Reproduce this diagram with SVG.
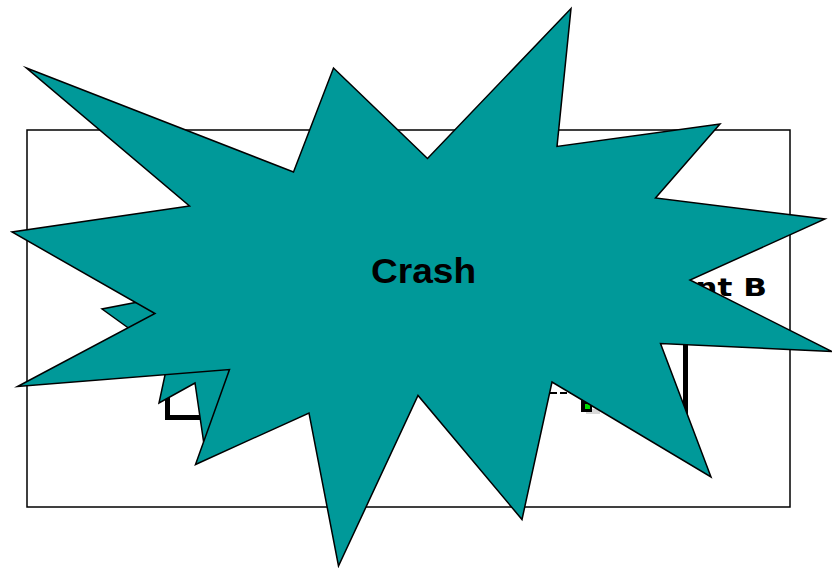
<svg xmlns="http://www.w3.org/2000/svg" width="832" height="568" viewBox="0 0 832 568">
  <style>
    .frame { fill: #ffffff; stroke: #000000; stroke-width: 1.5; }
    .burst { fill: #009999; stroke: #000000; stroke-width: 1.5; stroke-linejoin: miter; stroke-miterlimit: 20; }
    .thick { fill: none; stroke: #000000; stroke-width: 5; }
    .dash { fill: none; stroke: #000000; stroke-width: 2; stroke-dasharray: 7 3; }
    .label { font-family: "DejaVu Sans", Verdana, sans-serif; font-weight: bold; font-size: 24px; fill: #000000; }
    .crash { font-family: "Liberation Sans", Arial, sans-serif; font-weight: bold; font-size: 35px; fill: #000000; }
  </style>
  <rect width="832" height="568" fill="#ffffff"/>
  <g id="frame">
    <rect class="frame" x="27" y="130" width="763" height="377"/>
  </g>
  <g id="connectors">
    <polyline class="thick" points="167.5,360 167.5,417.5 240,417.5"/>
    <line class="thick" x1="685.5" y1="330" x2="685.5" y2="450"/>
    <line class="dash" x1="520" y1="393" x2="600" y2="393"/>
  </g>
  <g id="client-b">
    <text class="label" transform="translate(767,296) scale(1.3,1)" x="0" y="0" text-anchor="end">Client B</text>
  </g>
  <g id="device">
    <rect x="586" y="409" width="14" height="5" fill="#d8d8d8"/>
    <rect x="581" y="398" width="11" height="14" fill="#000000"/>
    <rect x="585" y="404" width="5" height="5" fill="#00dd00"/>
  </g>
  <g id="crash-back">
    <polygon class="burst" points="102,309 127,327 150,344 172,345 165,375 159,403 195,383 203.5,441 240,420 300,300 200,290"/>
  </g>
  <g id="crash">
    <polygon class="burst" points="26.5,68 293.5,172 333.5,68 427.5,158.5 571,8.5 557,146.5 720,124 655.5,198 825,219 690,280 832,351.5 660.5,343.5 711,477 552,382 522,519.5 418,395.5 338.5,566 309,413 195.5,464.5 229.5,369.5 17.5,386.5 155,313.5 12,232 189.5,206"/>
    <text class="crash" transform="translate(423.5,283) scale(1.06,1)" x="0" y="0" text-anchor="middle">Crash</text>
  </g>
</svg>
